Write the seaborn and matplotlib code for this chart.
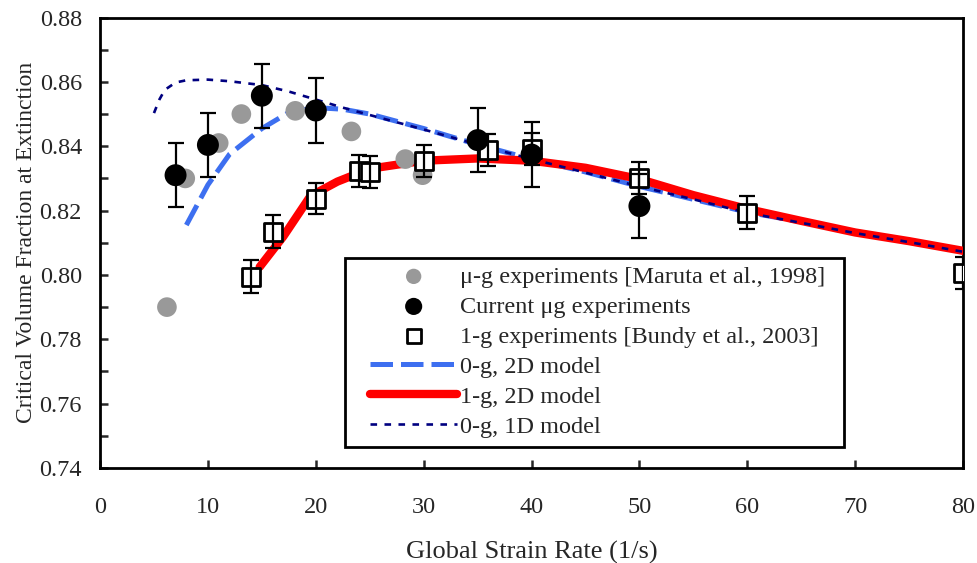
import numpy as np
import pandas as pd
import matplotlib
matplotlib.use("Agg")
import matplotlib.pyplot as plt
from matplotlib.patches import Rectangle
import seaborn as sns

# micro-g experiments, Maruta et al. 1998
maruta_x = [6.2, 7.9, 11.0, 13.1, 18.1, 23.3, 28.3, 29.9]
maruta_y = [0.790, 0.830, 0.841, 0.850, 0.851, 0.8446, 0.836, 0.831]

# current micro-g experiments
cur_x = [7, 10, 15, 20, 35, 40, 50]
cur_y = [0.831, 0.8404, 0.8557, 0.8511, 0.8419, 0.8374, 0.8214]
cur_err = [0.01, 0.01, 0.01, 0.01, 0.01, 0.01, 0.01]

# 1-g experiments, Bundy et al. 2003
bundy_x = [14, 16, 20, 24, 25, 30, 36, 40, 50, 60, 80]
bundy_y = [0.7995, 0.8135, 0.8237, 0.8323, 0.832, 0.8354, 0.8388, 0.8392, 0.8302, 0.8194, 0.8006]
bundy_err = [0.005, 0.005, 0.0048, 0.005, 0.005, 0.005, 0.005, 0.005, 0.005, 0.005, 0.005]

# 0-g, 2D model
m0g2d_x = [8, 10, 12, 15, 17.5, 20, 22.5, 25, 30, 35, 40, 45, 50, 55, 60, 65, 70, 75, 80]
m0g2d_y = [0.8155, 0.828, 0.8375, 0.8455, 0.8505, 0.852, 0.8515, 0.850, 0.8455, 0.8405,
           0.836, 0.832, 0.8275, 0.8235, 0.8195, 0.8165, 0.8135, 0.8105, 0.8075]

# 1-g, 2D model
m1g2d_x = [14.8, 17, 19.5, 22, 25, 30, 35, 40, 45, 50, 55, 60, 65, 70, 75, 80]
m1g2d_y = [0.8025, 0.812, 0.8245, 0.829, 0.833, 0.8355, 0.8362, 0.8355, 0.8333, 0.8298,
           0.8248, 0.8205, 0.8168, 0.8132, 0.8105, 0.8075]

# 0-g, 1D model
m0g1d_x = [5, 5.5, 6, 7, 8, 10, 12, 15, 17.5, 20, 22.5, 25, 30, 35, 40, 45, 50, 55, 60, 65, 70, 75, 80]
m0g1d_y = [0.8503, 0.8545, 0.8575, 0.8598, 0.8605, 0.8607, 0.8602, 0.859, 0.857, 0.8545, 0.852,
           0.8497, 0.8452, 0.8405, 0.836, 0.8318, 0.8275, 0.8235, 0.8193, 0.8162, 0.813, 0.8102, 0.8072]

sns.set_style("ticks")
plt.rcParams['font.family'] = ['Liberation Serif', 'DejaVu Serif']

fig = plt.figure(figsize=(9.77, 5.63), dpi=100)
ax = fig.add_axes([0.1024, 0.1687, 0.8833, 0.8002])

sns.lineplot(x=m0g2d_x, y=m0g2d_y, ax=ax, color='#3D6FF0', lw=3.6, sort=False, estimator=None,
             linestyle=(0, (4.5, 1.6)), label='0-g, 2D model', zorder=2)
sns.lineplot(x=m1g2d_x, y=m1g2d_y, ax=ax, color='#FF0000', lw=6.0, sort=False, estimator=None,
             solid_capstyle='round', label='1-g, 2D model', zorder=3)
sns.lineplot(x=m0g1d_x, y=m0g1d_y, ax=ax, color='#000080', lw=1.9, sort=False, estimator=None,
             linestyle=(0, (2.5, 2.8)), label='0-g, 1D model', zorder=4)

sns.scatterplot(x=maruta_x, y=maruta_y, ax=ax, color='#999999', s=200, edgecolor='none',
                label='\u03bc-g experiments [Maruta et al., 1998]', zorder=5)
sns.scatterplot(x=bundy_x, y=bundy_y, ax=ax, marker='s', s=170, facecolor='white',
                edgecolor='black', linewidth=2.0,
                label='1-g experiments [Bundy et al., 2003]', zorder=6)
ax.errorbar(bundy_x, bundy_y, yerr=bundy_err, fmt='none', ecolor='black', elinewidth=1.6,
            capsize=5.5, capthick=1.6, zorder=7)
ax.errorbar(cur_x, cur_y, yerr=cur_err, fmt='none', ecolor='black', elinewidth=1.6,
            capsize=5.5, capthick=1.6, zorder=8)
sns.scatterplot(x=cur_x, y=cur_y, ax=ax, color='black', s=250, edgecolor='none',
                label='Current \u03bcg experiments', zorder=9)

ax.set_xlim(0, 80)
ax.set_ylim(0.74, 0.88)
ax.set_xticks(np.arange(0, 81, 10))
ax.set_yticks(np.arange(0.74, 0.881, 0.02))
ax.set_yticks(np.arange(0.75, 0.88, 0.02), minor=True)
ax.set_yticklabels([f"{v:.2f}" for v in np.arange(0.74, 0.881, 0.02)])
ax.tick_params(axis='both', which='both', direction='in', length=6, width=1.8, labelsize=17.5)
ax.tick_params(axis='y', which='both', pad=13)
ax.tick_params(axis='x', pad=21)
for sp in ax.spines.values():
    sp.set_visible(True)
    sp.set_linewidth(2.0)
    sp.set_color('black')

ax.set_xlabel('Global Strain Rate (1/s)', fontsize=19, labelpad=16)
ax.set_ylabel('Critical Volume Fraction at Extinction', fontsize=17, labelpad=2)

# legend box
ax.add_patch(Rectangle((0.284, 0.047), 0.578, 0.419, transform=ax.transAxes,
                       facecolor='white', edgecolor='black', lw=2.0, zorder=9.5))

h, l = ax.get_legend_handles_labels()
order = ['\u03bc-g experiments [Maruta et al., 1998]', 'Current \u03bcg experiments',
         '1-g experiments [Bundy et al., 2003]', '0-g, 2D model', '1-g, 2D model', '0-g, 1D model']
hd = dict(zip(l, h))
leg = ax.legend([hd[k] for k in order], order, loc='upper left',
                bbox_to_anchor=(0.313, 0.449), fontsize=17.5, frameon=False,
                handlelength=3.58, handletextpad=0.1, labelspacing=0.33,
                borderaxespad=0, borderpad=0, markerscale=0.78)
leg.set_zorder(10)

plt.savefig('out.png', dpi=100)
